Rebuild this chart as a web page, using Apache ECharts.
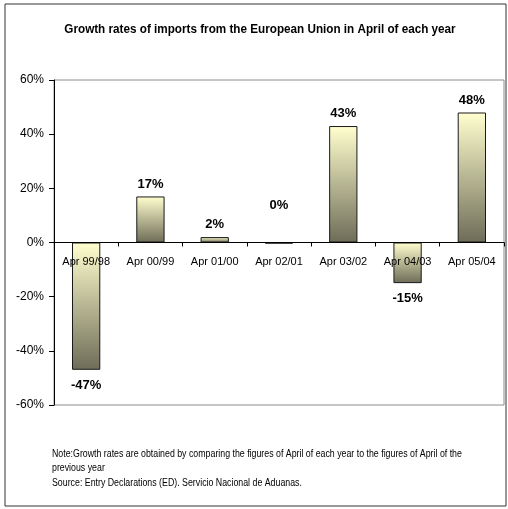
<!DOCTYPE html>
<html>
<head>
<meta charset="utf-8">
<style>
  html, body { margin: 0; padding: 0; background: #fff; }
  #chart { width: 508px; height: 509px; }
</style>
<script src="https://cdn.jsdelivr.net/npm/echarts@6/dist/echarts.min.js"></script>
</head>
<body>
<div id="chart"></div>
<script>
// Year-over-year growth of April imports from the European Union (%)
const categories = ['Apr 99/98', 'Apr 00/99', 'Apr 01/00', 'Apr 02/01', 'Apr 03/02', 'Apr 04/03', 'Apr 05/04'];
const growth = [-47, 17, 2, -0.4, 43, -15, 48];
const yTicks = { min: -60, max: 60, interval: 20 };

const titleText = 'Growth rates of imports from the European Union in April of each year';
const noteLines = [
  'Note:Growth rates are obtained by comparing the figures of April of each year to the figures of April of the',
  'previous year',
  'Source: Entry Declarations (ED). Servicio Nacional de Aduanas.'
];

const FONT = '"Liberation Sans", Arial, sans-serif';

const W = 508, H = 509;
const grid = { left: 54, right: 4, top: 80, bottom: 104 };
const plotH = H - grid.top - grid.bottom;
// place the category axis on the zero line (offset is measured up from the plot bottom)
const zeroOffset = -plotH * (0 - yTicks.min) / (yTicks.max - yTicks.min);

const barFill = {
  type: 'linear', x: 0, y: 0, x2: 0, y2: 1,
  colorStops: [
    { offset: 0, color: '#FFFFCF' },
    { offset: 1, color: '#6E6C57' }
  ]
};

const fmt = v => Math.round(v) + '%';

const chart = echarts.init(document.getElementById('chart'), null, { renderer: 'canvas' });

chart.setOption({
  animation: false,
  backgroundColor: '#fff',
  grid: Object.assign({ show: true, borderColor: '#8c8c8c', borderWidth: 1 }, grid),
  xAxis: {
    type: 'category',
    data: categories,
    position: 'bottom',
    offset: zeroOffset,
    axisLine: { onZero: false, lineStyle: { color: '#000', width: 1 } },
    axisTick: { show: true, length: 4, lineStyle: { color: '#000' } },
    axisLabel: { interval: 0, hideOverlap: false, margin: 14, fontFamily: FONT, fontSize: 11, color: '#000' },
    z: 5
  },
  yAxis: {
    type: 'value',
    min: yTicks.min, max: yTicks.max, interval: yTicks.interval,
    splitLine: { show: false },
    axisLine: { show: true, lineStyle: { color: '#000' } },
    axisTick: { show: true, length: 5, lineStyle: { color: '#000' } },
    axisLabel: { margin: 10, formatter: v => v + '%', fontFamily: FONT, fontSize: 12, color: '#000' }
  },
  series: [{
    type: 'bar',
    data: growth.map(v => {
      const item = { value: v };
      if (v < 0 && Math.round(v) !== 0) {
        item.label = { position: 'bottom', distance: 9 };
      } else if (Math.round(v) === 0) {
        item.label = { position: 'top', distance: 31 };
      }
      return item;
    }),
    barWidth: '44%',
    itemStyle: { color: barFill, borderColor: '#1a1a1a', borderWidth: 1 },
    label: {
      show: true,
      position: 'top',
      distance: 6,
      formatter: p => fmt(p.value),
      fontFamily: FONT, fontSize: 13, fontWeight: 'bold', color: '#000'
    }
  }],
  graphic: [
    {
      type: 'rect',
      shape: { x: 5, y: 4, width: 501, height: 502 },
      style: { fill: 'none', stroke: '#333', lineWidth: 1 },
      silent: true
    },
    {
      type: 'text',
      x: 260, y: 29,
      scaleX: 0.9,
      style: {
        text: titleText, font: 'bold 13px ' + FONT, fill: '#000',
        align: 'center', verticalAlign: 'middle'
      }
    },
    {
      type: 'group',
      x: 52, y: 454,
      scaleX: 0.88,
      children: noteLines.map((t, i) => ({
        type: 'text',
        x: 0, y: i * 14.5,
        style: { text: t, font: '10px ' + FONT, fill: '#000', verticalAlign: 'middle' }
      }))
    }
  ]
});
</script>
</body>
</html>
